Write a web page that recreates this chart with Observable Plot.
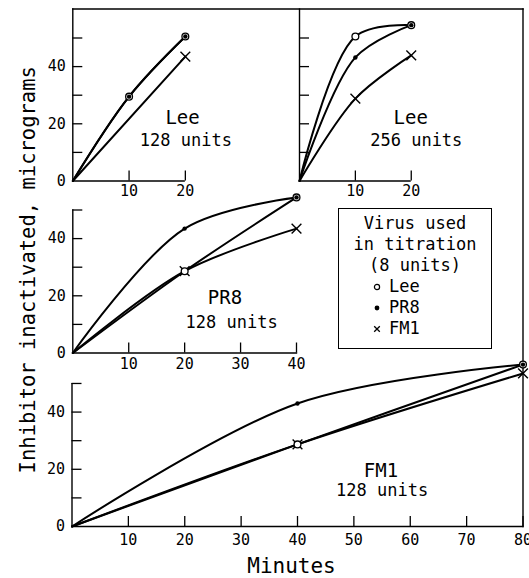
<!DOCTYPE html>
<html><head><meta charset="utf-8">
<script src="https://cdn.jsdelivr.net/npm/d3@7"></script>
<script src="https://cdn.jsdelivr.net/npm/@observablehq/plot@0.6"></script>
<style>
body{margin:0;background:#fff;}
#wrap{position:relative;width:529px;height:578px;overflow:hidden;font-family:"DejaVu Sans Mono",monospace;color:#000;}
#wrap > svg{position:absolute;left:0;top:0;background:transparent;}
#legend{position:absolute;left:338px;top:208px;width:152px;height:135px;border:1.5px solid #000;padding-top:4px;font-size:17px;line-height:21px;color:#000;background:#fff;}
#legend .c{text-align:center;}
#legend .e{text-align:left;padding-left:32px;}
#legend .e svg{display:inline-block;width:12px;height:12px;margin-right:6px;vertical-align:-1px;}
</style></head><body>
<div id="wrap"></div>
<script>
// ---- data ----
const seriesNames = ["Lee", "PR8", "FM1"];

// Panel A: Lee, 128 units
const minutesA = [0, 10, 20];
const leeA = [0, 29.5, 50.5];
const pr8A = [0, 29.5, 50.5];
const fm1A = [0, null, 43.5];

// Panel B: Lee, 256 units
const minutesB = [0, 10, 20];
const leeB = [0, 50.5, 54.5];
const pr8B = [0, 43.2, 54.5];
const fm1B = [0, 28.8, 43.9];

// Panel C: PR8, 128 units
const minutesC = [0, 20, 40];
const leeC = [0, 28.6, 54.4];
const pr8C = [0, 43.5, 54.4];
const fm1C = [0, 28.6, 43.5];

// Panel D: FM1, 128 units
const minutesD = [0, 40, 80];
const leeD = [0, 28.7, 56.6];
const pr8D = [0, 43.0, 56.6];
const fm1D = [0, 28.7, 53.5];

const panelViruses = ["Lee", "Lee", "PR8", "FM1"];
const panelUnits = ["128 units", "256 units", "128 units", "128 units"];
const xTicksA = [10, 20];
const xTicksB = [10, 20];
const xTicksC = [10, 20, 30, 40];
const xTicksD = [10, 20, 30, 40, 50, 60, 70, 80];
const yTicks = [10, 20, 30, 40, 50];
const yTickLabels = [0, 20, 40];
const yTitle = "Inhibitor inactivated, micrograms";
const xTitle = "Minutes";
const legendTitle = ["Virus used", "in titration", "(8 units)"];

// ---- helpers ----
function rows(minutes, lee, pr8, fm1) {
  const out = [];
  [lee, pr8, fm1].forEach((vals, i) => minutes.forEach((t, j) => {
    if (vals[j] != null) out.push({series: seriesNames[i], t, v: vals[j]});
  }));
  return out;
}

const W = 529, H = 578;
const FONT = "DejaVu Sans Mono";

function panel(cfg) {
  const data = cfg.data;
  const pts = data.filter(d => d.t > 0);
  const marks = [
    ...cfg.frames,
    Plot.axisX({ticks: cfg.xTicks, tickSize: -10, tickPadding: 10 + cfg.xGap, label: null, fontSize: 15, strokeWidth: 1.3}),
    Plot.axisY({ticks: yTicks, tickSize: -10, tickFormat: () => "", label: null, strokeWidth: 1.3}),
    ...(cfg.yLabels ? [Plot.axisY({ticks: yTickLabels, tickSize: 0, tickPadding: 7, label: null, fontSize: 15})] : []),
    Plot.line(data, {x: "t", y: "v", z: "series", curve: "catmull-rom", stroke: "#000", strokeWidth: 2}),
    Plot.dot(pts.filter(d => d.series === "FM1"), {x: "t", y: "v", symbol: "times", r: 4.5, stroke: "#000", strokeWidth: 1.4}),
    Plot.dot(pts.filter(d => d.series === "Lee"), {x: "t", y: "v", symbol: "circle", r: 3.4, fill: "#fff", stroke: "#000", strokeWidth: 1.3}),
    Plot.dot(pts.filter(d => d.series === "PR8"), {x: "t", y: "v", r: 2.2, fill: "#000", stroke: "none"}),
    Plot.text([cfg.virus], {x: cfg.namePos[0], y: cfg.namePos[1], fontSize: 19, fill: "#000"}),
    Plot.text([cfg.units], {x: cfg.unitsPos[0], y: cfg.unitsPos[1], fontSize: 17, fill: "#000"}),
    ...(cfg.extra || [])
  ];
  return Plot.plot({
    width: W, height: H,
    marginLeft: cfg.m[0], marginRight: cfg.m[1], marginTop: cfg.m[2], marginBottom: cfg.m[3],
    x: {domain: cfg.xDomain, label: null},
    y: {domain: cfg.yDomain, label: null},
    style: {fontFamily: FONT, fontSize: "15px", color: "#000", background: "transparent"},
    marks
  });
}

const fr = {stroke: "#000", strokeWidth: 1.4};

const svgA = panel({
  data: rows(minutesA, leeA, pr8A, fm1A),
  m: [72.3, 6.5, 8.5, 397.5], xDomain: [0, 80], yDomain: [0, 60.14],
  xTicks: xTicksA, xGap: 4.5, yLabels: true,
  virus: panelViruses[0], units: panelUnits[0], namePos: [19.5, 22], unitsPos: [20.1, 14.2],
  frames: [Plot.frame({anchor: "top", ...fr}), Plot.frame({anchor: "left", ...fr}),
           Plot.ruleY([0], {x1: 0, x2: d3.max(minutesA), ...fr})]
});
const svgB = panel({
  data: rows(minutesB, leeB, pr8B, fm1B),
  m: [299, 6.5, 8.5, 397.5], xDomain: [0, 40], yDomain: [0, 60.14],
  xTicks: xTicksB, xGap: 4.5, yLabels: false,
  virus: panelViruses[1], units: panelUnits[1], namePos: [19.9, 22], unitsPos: [20.9, 14.2],
  frames: [Plot.frame({anchor: "left", ...fr}),
           Plot.ruleY([0], {x1: 0, x2: d3.max(minutesB), ...fr})]
});
const svgC = panel({
  data: rows(minutesC, leeC, pr8C, fm1C),
  m: [72.3, 233, 209.5, 225.5], xDomain: [0, 40], yDomain: [0, 50],
  xTicks: xTicksC, xGap: 5, yLabels: true,
  virus: panelViruses[2], units: panelUnits[2], namePos: [27.2, 19.1], unitsPos: [28.4, 10.7],
  frames: [Plot.frame({anchor: "left", ...fr}), Plot.frame({anchor: "bottom", ...fr})]
});
const svgD = panel({
  data: rows(minutesD, leeD, pr8D, fm1D),
  m: [71.5, 6.5, 8.5, 52], xDomain: [0, 80], yDomain: [0, 180.9],
  xTicks: xTicksD, xGap: 8, yLabels: true,
  virus: panelViruses[3], units: panelUnits[3], namePos: [54.8, 19.6], unitsPos: [55, 12.5],
  frames: [Plot.frame({anchor: "right", ...fr}), Plot.frame({anchor: "bottom", ...fr}),
           Plot.ruleX([0], {y1: 0, y2: d3.max(yTicks), ...fr})],
  extra: [
    Plot.text([xTitle], {frameAnchor: "bottom", textAnchor: "middle", lineAnchor: "middle", dx: -6, dy: 40, fontSize: 21, fill: "#000"}),
    Plot.text([yTitle], {frameAnchor: "left", textAnchor: "middle", lineAnchor: "middle", rotate: -90, dx: -44, dy: 2, fontSize: 20.5, fill: "#000"})
  ]
});

const wrap = document.getElementById("wrap");
[svgA, svgB, svgC, svgD].forEach(s => wrap.appendChild(s));

// legend (inside the plot area, as in the original)
const lg = document.createElement("div");
lg.id = "legend";
const sym = {
  Lee: '<svg viewBox="0 0 12 12"><circle cx="6" cy="6" r="2.6" fill="#fff" stroke="#000" stroke-width="1.2"/></svg>',
  PR8: '<svg viewBox="0 0 12 12"><circle cx="6" cy="6" r="2.4" fill="#000"/></svg>',
  FM1: '<svg viewBox="0 0 12 12"><path d="M3.2,3.2L8.8,8.8M8.8,3.2L3.2,8.8" stroke="#000" stroke-width="1.3"/></svg>'
};
lg.innerHTML = legendTitle.map(t => `<div class="c">${t}</div>`).join("") +
  seriesNames.map(s => `<div class="e">${sym[s]}${s}</div>`).join("");
wrap.appendChild(lg);
</script>
</body></html>
